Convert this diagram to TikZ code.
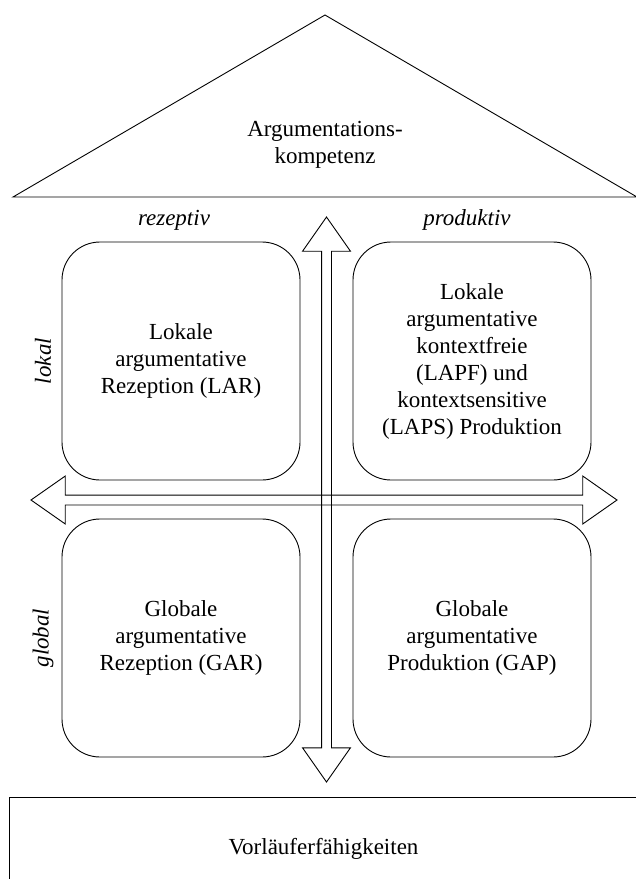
\documentclass[tikz,border=0pt]{standalone}
\usepackage{fontspec}
\setmainfont{Liberation Serif}
\usetikzlibrary{shapes.arrows,positioning}
\newcommand{\mainsize}{\fontsize{23}{27}\selectfont}
\tikzset{
  field/.style={
    rectangle,
    rounded corners=38pt,
    draw=black,
    line width=0.9pt,
    align=center,
    minimum width=238pt,
    minimum height=238pt,
    inner sep=0pt,
    outer sep=0pt,
    font=\mainsize
  },
  axis/.style={
    double arrow,
    draw=black,
    line width=0.9pt,
    inner sep=4.5pt,
    minimum width=0pt,
    double arrow head extend=19pt,
    double arrow tip angle=70
  },
  dimlabel/.style={
    font=\mainsize\itshape
  },
  basebox/.style={
    rectangle,
    draw=black,
    line width=0.9pt,
    minimum width=629pt,
    minimum height=103pt,
    font=\mainsize
  },
  roofline/.style={
    draw=black,
    line width=0.9pt
  }
}

\begin{document}
\begin{tikzpicture}[x=1pt, y=-1pt]
  \useasboundingbox (0,0) rectangle (636,879);
  \clip (0,0) rectangle (636,879);

  \coordinate (roofl) at (13,197);
  \coordinate (roofr) at (637,197);
  \coordinate (apex) at (325,15);
  \draw[roofline] (roofl) -- (apex) -- (roofr) -- cycle;
  \node[font=\mainsize, align=center] (komp) at (325,145) {Argumentations-\\kompetenz};

  \node[field] (lar) at (181,361) {Lokale\\argumentative\\Rezeption (LAR)};
  \node[field, right=53pt of lar] (lap) {Lokale\\argumentative\\kontextfreie\\(LAPF) und\\kontextsensitive\\(LAPS) Produktion};
  \node[field, below=39pt of lar] (gar) {Globale\\argumentative\\Rezeption (GAR)};
  \node[field, right=53pt of gar] (gap) {Globale\\argumentative\\Produktion (GAP)};

  \node[dimlabel] (rez) at (174,220) {rezeptiv};
  \node[dimlabel] (prod) at (467,220) {produktiv};
  \node[dimlabel, rotate=90] (lok) at (43,361) {lokal};
  \node[dimlabel, rotate=90] (glob) at (43,638) {global};

  \node[axis, rotate=90, minimum height=565pt] (vert) at (326.5,499.5) {};
  \node[axis, minimum height=586pt] (horz) at (324,500) {};

  \node[basebox] (vorl) at (323.5,848.5) {Vorläuferfähigkeiten};
\end{tikzpicture}
\end{document}
